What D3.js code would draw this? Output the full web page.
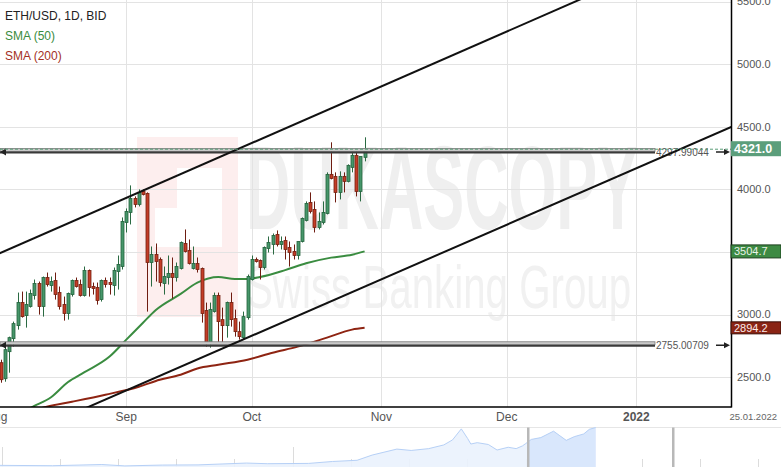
<!DOCTYPE html>
<html><head><meta charset="utf-8">
<script src="https://cdn.jsdelivr.net/npm/d3@7"></script>
<style>body{margin:0;background:#fff}svg{display:block;font-family:"Liberation Sans",Arial,sans-serif}</style>
</head><body><svg id="c" width="781" height="467"></svg>
<script>
// ---------- DATA ----------
const firstCandle = "2021-08-02"; // consecutive daily candles
const opens  = [2616,2488,2704,2808,2912,3096,2992,3064,3152,3248,3064,3296,3232,3272,3176,3080,3008,3160,3272,3240,3152,3352,3224,3216,3120,3272,3256,3232,3344,3384,
                3736,3816,3928,3880,3984,3968,3416,3480,3440,3248,3296,3328,3296,3368,3568,3512,3368,3408,3368,3032,2768,3024,3152,2960,2912,3096,2968,2864,2816,2976,
                3280,3440,3432,3376,3528,3560,3640,3560,3592,3536,3504,3472,3584,3752,3896,3840,3696,3736,3808,4120,4104,3976,4104,4064,4176,4272,3984,4256];
const highs  = [2640,2744,2824,2944,3176,3184,3184,3200,3280,3264,3304,3336,3304,3336,3224,3144,3176,3280,3296,3280,3384,3360,3256,3256,3280,3296,3296,3376,3472,3776,
                3848,4032,3944,4000,4000,3976,3544,3568,3456,3384,3472,3456,3416,3584,3680,3600,3544,3456,3376,3096,3096,3176,3176,3056,3104,3176,3040,2944,3024,3320,
                3472,3456,3440,3544,3624,3648,3672,3624,3624,3584,3560,3584,3776,3904,3976,3904,3816,3904,4136,4376,4136,4144,4136,4200,4304,4304,4264,4416];
const lows   = [2456,2464,2536,2744,2880,2976,2896,3056,3120,3000,2984,3224,3184,3120,3040,2952,2960,3144,3216,3144,3144,3144,3160,3080,3104,3216,3160,3152,3200,3360,
                3656,3720,3856,3864,3952,3024,3224,3264,3224,3160,3240,3128,3264,3360,3496,3400,3360,3336,2936,2744,2736,3016,2776,2776,2816,2904,2824,2800,2800,2960,
                3272,3416,3280,3360,3496,3480,3544,3520,3440,3384,3440,3440,3576,3744,3808,3656,3680,3720,3800,4080,3896,3920,3976,4056,4136,3944,3904,4224];
const closes = [2480,2720,2816,2928,3096,2984,3080,3168,3248,3064,3296,3240,3264,3160,3064,3008,3168,3272,3224,3152,3352,3216,3208,3112,3272,3240,3240,3352,3400,3744,
                3824,3928,3880,3976,3960,3416,3480,3424,3256,3304,3328,3296,3384,3576,3504,3408,3408,3360,3008,2776,3040,3152,2944,2912,3096,2960,2864,2824,2984,3304,
                3440,3424,3376,3536,3576,3632,3560,3584,3520,3496,3472,3584,3768,3888,3824,3696,3744,3816,4120,4088,3976,4104,4064,4192,4272,3984,4264,4321];

const sma50Dates  = ["2021-08-05","2021-08-10","2021-08-14","2021-08-18","2021-08-22","2021-08-28","2021-09-01","2021-09-05","2021-09-08","2021-09-14","2021-09-18","2021-09-23","2021-09-27","2021-09-30","2021-10-03","2021-10-09","2021-10-14","2021-10-20","2021-10-25","2021-10-28"];
const sma50Values = [2190,2270,2340,2460,2540,2665,2800,2935,3035,3165,3255,3300,3285,3285,3300,3355,3410,3455,3478,3504.7];

const sma200Dates  = ["2021-08-09","2021-08-13","2021-08-19","2021-08-27","2021-09-04","2021-09-09","2021-09-14","2021-09-18","2021-09-23","2021-09-30","2021-10-06","2021-10-12","2021-10-19","2021-10-25","2021-10-28"];
const sma200Values = [2230,2264,2304,2360,2424,2480,2520,2570,2600,2640,2696,2744,2816,2880,2894.2];

const trendUpperDates  = ["2021-08-01","2021-12-31"];
const trendUpperValues = [3479,5699];
const trendLowerDates  = ["2021-08-15","2022-01-25"];
const trendLowerValues = [2147,4518];

const hLineValues = [4297.99044, 2755.00709];
const hLineLabels = ["4297.99044", "2755.00709"];

const yTicks = [2500,3000,3500,4000,4500,5000,5500];
const monthTicks  = ["2021-08-01","2021-09-01","2021-10-01","2021-11-01","2021-12-01","2022-01-01"];
const monthLabels = ["Aug","Sep","Oct","Nov","Dec","2022"];
const endLabel = "25.01.2022";

const lastPrice = 4321.0, sma50Last = 3504.7, sma200Last = 2894.2;

const navDates  = ["2019-10-10","2019-12-15","2020-02-15","2020-03-15","2020-05-01","2020-06-15","2020-08-15","2020-09-10","2020-11-01","2020-12-01","2021-01-01","2021-01-20","2021-02-20","2021-03-10","2021-04-01","2021-04-20","2021-05-01","2021-05-12","2021-05-20","2021-05-24","2021-06-01","2021-06-15","2021-06-26","2021-07-10","2021-07-20","2021-07-28","2021-08-01","2021-08-08","2021-08-20","2021-09-05","2021-09-13","2021-09-21","2021-10-01","2021-10-13","2021-10-20","2021-10-28"];
const navValues = [180,140,270,120,210,230,430,360,390,600,730,1300,1950,1800,2000,2400,2950,4150,3100,2500,2650,2450,1850,2150,2000,2300,2550,3000,3200,3900,3400,2900,3300,3600,4100,4300];

// ---------- SETUP ----------
const W = 781, H = 467;
const plotR = 731.5, plotB = 407;
const P = d3.utcParse("%Y-%m-%d");
const svg = d3.select("#c");
const x = d3.scaleUtc().domain([P("2021-08-01"), P("2021-09-01")]).range([-3.3, 126.3]);
const y = d3.scaleLinear().domain([2500, 5000]).range([377.2, 64.2]);

const candles = opens.map((o,i)=>({d:d3.utcDay.offset(P(firstCandle), i), o, h:highs[i], l:lows[i], c:closes[i]}));

svg.append("defs").append("clipPath").attr("id","plot").append("rect").attr("x",0).attr("y",0).attr("width",plotR).attr("height",plotB);
svg.select("defs").append("clipPath").attr("id","navsel").append("rect").attr("x",528).attr("y",427).attr("width",145).attr("height",40);

// watermark
const wm = svg.append("g");
wm.append("rect").attr("x",137).attr("y",137).attr("width",101).attr("height",180).attr("fill","#fdeeee");
wm.append("rect").attr("x",177).attr("y",168).attr("width",45).attr("height",41).attr("fill","#fff");
wm.append("rect").attr("x",155).attr("y",208).attr("width",67).attr("height",39).attr("fill","#fff");
wm.append("text").attr("transform","translate(246,229) scale(0.52,1)").attr("font-size",118).attr("font-weight","bold")
  .attr("fill","#efefef").text("DUKASCOPY");
wm.append("text").attr("transform","translate(246,308) scale(0.65,1)").attr("font-size",62)
  .attr("fill","#f1f1f1").text("Swiss Banking Group");

// grid
const grid = svg.append("g");
grid.selectAll("line.h").data(yTicks).join("line")
  .attr("x1",0).attr("x2",plotR).attr("y1",d=>Math.round(y(d))+0.5).attr("y2",d=>Math.round(y(d))+0.5)
  .attr("stroke","#e3e3e3");
grid.selectAll("line.v").data(monthTicks).join("line")
  .attr("y1",0).attr("y2",plotB).attr("x1",d=>Math.round(x(P(d)))+0.5).attr("x2",d=>Math.round(x(P(d)))+0.5)
  .attr("stroke","#e3e3e3");

const plot = svg.append("g").attr("clip-path","url(#plot)");

// SMA lines
const line = d3.line().x(d=>x(d[0])).y(d=>y(d[1])).curve(d3.curveMonotoneX);
plot.append("path").datum(sma200Dates.map((d,i)=>[P(d),sma200Values[i]]))
  .attr("d",line).attr("fill","none").attr("stroke","#8e2412").attr("stroke-width",2);
plot.append("path").datum(sma50Dates.map((d,i)=>[P(d),sma50Values[i]]))
  .attr("d",line).attr("fill","none").attr("stroke","#3a8c40").attr("stroke-width",2);

// candles
const cg = plot.append("g");
const up = c=>c.c>=c.o;
cg.selectAll("line").data(candles).join("line")
  .attr("x1",c=>Math.round(x(c.d))+0.5).attr("x2",c=>Math.round(x(c.d))+0.5)
  .attr("y1",c=>y(c.h)).attr("y2",c=>y(c.l))
  .attr("stroke",c=>up(c)?"#2a6a42":"#6e1c10").attr("stroke-width",1);
cg.selectAll("rect").data(candles).join("rect")
  .attr("x",c=>Math.round(x(c.d))-1).attr("width",3)
  .attr("y",c=>y(Math.max(c.o,c.c))).attr("height",c=>Math.max(1,Math.abs(y(c.o)-y(c.c))))
  .attr("fill",c=>up(c)?"#46966a":"#c43d27").attr("stroke",c=>up(c)?"#24633d":"#74200f").attr("stroke-width",0.8);

// horizontal line tools
hLineValues.forEach((v,i)=>{
  const yy = y(v);
  const g = plot.append("g");
  g.append("rect").attr("x",0).attr("y",yy-3.5).attr("width",655).attr("height",3).attr("fill","#c9c9c9").attr("stroke","#7a7a7a").attr("stroke-width",0.8);
  g.append("line").attr("x1",0).attr("x2",655).attr("y1",yy+0.5).attr("y2",yy+0.5).attr("stroke","#3a3a3a").attr("stroke-width",2);
  g.append("path").attr("d",`M0,${yy} L6,${yy-3.5} L6,${yy+3.5}Z`).attr("fill","#222");
  g.append("text").attr("x",656).attr("y",yy+3.5).attr("font-size",10).attr("fill","#555").text(hLineLabels[i]);
  g.append("line").attr("x1",716).attr("x2",726).attr("y1",yy).attr("y2",yy).attr("stroke","#222").attr("stroke-width",1.5);
  g.append("path").attr("d",`M730,${yy} L724,${yy-3} L724,${yy+3}Z`).attr("fill","#222");
});

// trend lines
[[trendUpperDates,trendUpperValues],[trendLowerDates,trendLowerValues]].forEach(([ds,vs])=>{
  plot.append("path").datum(ds.map((d,i)=>[P(d),vs[i]]))
    .attr("d",d3.line().x(d=>x(d[0])).y(d=>y(d[1]))).attr("fill","none").attr("stroke","#111").attr("stroke-width",2);
});

// current price line
plot.append("line").attr("x1",0).attr("x2",plotR).attr("y1",y(lastPrice)).attr("y2",y(lastPrice))
  .attr("stroke","#5a9e78").attr("stroke-dasharray","3,2").attr("stroke-width",1);

// axes lines
svg.append("line").attr("x1",plotR).attr("x2",plotR).attr("y1",0).attr("y2",plotB+0.5).attr("stroke","#000").attr("stroke-width",1.5);
svg.append("line").attr("x1",0).attr("x2",plotR).attr("y1",plotB).attr("y2",plotB).attr("stroke","#000").attr("stroke-width",1.5);

// y labels (labels hidden behind a price box are not drawn)
const boxVals = [lastPrice, sma50Last, sma200Last];
const visibleTicks = yTicks.filter(t=>boxVals.every(b=>Math.abs(y(t)-y(b))>11));
svg.selectAll("text.yl").data(visibleTicks).join("text").attr("class","yl")
  .attr("x",737).attr("y",d=>y(d)).attr("dy","0.35em").attr("font-size",11).attr("fill","#555")
  .text(d=>d3.format(".1f")(d));

// x labels
svg.selectAll("text.xl").data(monthTicks).join("text").attr("class","xl")
  .attr("x",d=>x(P(d))).attr("y",421).attr("text-anchor","middle").attr("font-size",12).attr("fill","#555")
  .attr("font-weight",(d,i)=>monthLabels[i]==="2022"?"bold":"normal")
  .text((d,i)=>monthLabels[i]);
svg.append("text").attr("x",777).attr("y",420).attr("text-anchor","end").attr("font-size",9.5).attr("fill","#666").text(endLabel);

// price boxes
function box(v, y0, h, fill, stroke, tcol, fs, bold){
  svg.append("rect").attr("x",731).attr("y",y0).attr("width",50).attr("height",h).attr("fill",fill).attr("stroke",stroke).attr("stroke-width",stroke==="none"?0:1);
  svg.append("text").attr("x",734).attr("y",y0+h/2).attr("dy","0.36em").attr("font-size",fs).attr("font-weight",bold?"bold":"normal").attr("fill",tcol).text(d3.format(".1f")(v));
}
box(lastPrice, y(lastPrice)-8, 15, "#5b9e7b", "none", "#fff", 12.5, true);
box(sma50Last, y(sma50Last)-6.5, 13, "#3d8a43", "#1d3f1f", "#e9f3e9", 11, false);
box(sma200Last, y(sma200Last)-6, 12, "#8a2414", "#3a0e06", "#fbeaea", 11, false);

// legend
svg.append("text").attr("x",5).attr("y",20).attr("font-size",12).attr("fill","#222").text("ETH/USD, 1D, BID");
svg.append("text").attr("x",5).attr("y",40).attr("font-size",12).attr("fill","#3a8c40").text("SMA (50)");
svg.append("text").attr("x",5).attr("y",60).attr("font-size",12).attr("fill","#a3311f").text("SMA (200)");

// navigator
svg.append("line").attr("x1",0).attr("x2",W).attr("y1",427.5).attr("y2",427.5).attr("stroke","#e6e6e6");
const nx = d3.scaleUtc().domain([P("2019-10-10"), P("2022-06-18")]).range([0, W]);
const ny = d3.scaleLinear().domain([0, 4300]).range([467, 427.5]);
const navTicks = d3.range(0,14).map(k=>d3.utcHour.offset(P("2019-10-12"), Math.round(k*73.2*24)));
svg.selectAll("line.nt").data(navTicks).join("line")
  .attr("x1",d=>Math.round(nx(d))+0.5).attr("x2",d=>Math.round(nx(d))+0.5)
  .attr("y1",(d,k)=>k%5===0?447:459).attr("y2",H).attr("stroke","#dcdcdc");
const navData = navDates.map((d,i)=>[P(d),navValues[i]]);
const area = d3.area().x(d=>nx(d[0])).y0(H).y1(d=>ny(d[1]));
svg.append("path").datum(navData).attr("d",area).attr("fill","#eaf2fd").attr("opacity",0.9);
svg.append("path").datum(navData).attr("d",area).attr("fill","#d9e7fc").attr("clip-path","url(#navsel)");
svg.append("path").datum(navData).attr("d",d3.line().x(d=>nx(d[0])).y(d=>ny(d[1]))).attr("fill","none").attr("stroke","#b6d0f6").attr("stroke-width",1);
[528,673].forEach(hx=>svg.append("rect").attr("x",hx-1).attr("y",427.5).attr("width",2.5).attr("height",40).attr("fill","#b8b8b8"));
</script></body></html>
